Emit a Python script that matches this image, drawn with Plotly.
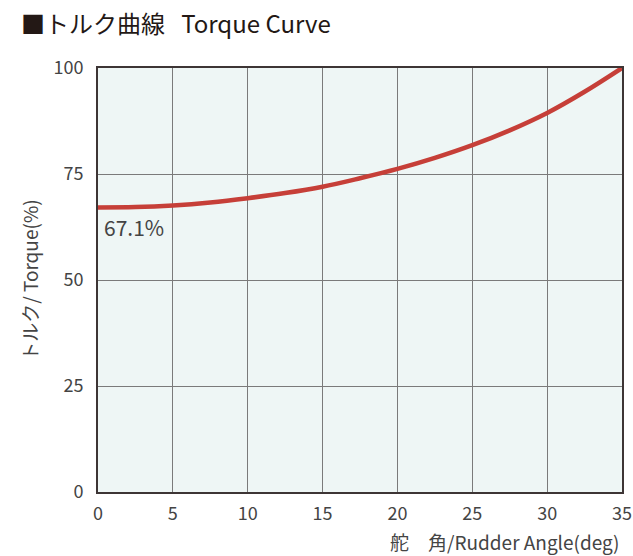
import plotly.graph_objects as go

angle = [0, 2.5, 5, 7.5, 10, 12.5, 15, 17.5, 20, 22.5, 25, 27.5, 30, 32.5, 35]
torque = [67.1, 67.2, 67.6, 68.3, 69.3, 70.5, 72.0, 74.0, 76.2, 78.8, 81.8, 85.3, 89.4, 94.4, 100.0]
x_ticks = [0, 5, 10, 15, 20, 25, 30, 35]
y_ticks = [0, 25, 50, 75, 100]

FONT = "Noto Sans CJK JP"
TXT = "#444444"

fig = go.Figure()
fig.add_trace(go.Scatter(
    x=angle, y=torque, mode="lines",
    line=dict(color="#c63f38", width=4.5, shape="spline"),
    hoverinfo="skip", showlegend=False,
))

fig.add_annotation(x=0, y=67.1, xref="x", yref="y", text="67.1%",
                   showarrow=False, xanchor="left", yanchor="top",
                   xshift=4, yshift=-2,
                   font=dict(family=FONT, size=21, color=TXT))

# plot area in px: x 98..622, y 68..492
fig.add_annotation(x=-0.15, y=1.108, xref="paper", yref="paper", text="■トルク曲線&nbsp;&nbsp;&nbsp;Torque Curve",
                   showarrow=False, xanchor="left", yanchor="middle",
                   font=dict(family=FONT, size=24, color="#231815"))

fig.add_annotation(x=1.0, y=-0.117, xref="paper", yref="paper", text="舵　角/Rudder Angle(deg)",
                   showarrow=False, xanchor="right", yanchor="middle",
                   font=dict(family=FONT, size=19, color=TXT))

fig.update_layout(
    width=633, height=556,
    margin=dict(l=98, r=11, t=68, b=64),
    paper_bgcolor="white",
    plot_bgcolor="#eef6f5",
    font=dict(family=FONT, color=TXT),
    xaxis=dict(range=[0, 35], tickvals=x_ticks, showgrid=True, gridcolor="#7a7a7a", gridwidth=1,
               showline=True, linecolor="#3d3535", linewidth=2, mirror=True, zeroline=False,
               automargin=False,
               ticks="", tickfont=dict(size=18, family=FONT, color=TXT), ticklabelstandoff=4),
    yaxis=dict(range=[0, 100], tickvals=y_ticks, showgrid=True, gridcolor="#7a7a7a", gridwidth=1,
               showline=True, linecolor="#3d3535", linewidth=2, mirror=True, zeroline=False,
               automargin=False,
               ticks="", tickfont=dict(size=18, family=FONT, color=TXT), ticklabelstandoff=9,
               title=dict(text="トルク/ Torque(%)", font=dict(size=19, family=FONT, color=TXT), standoff=10)),
)

fig.write_html("out.html", config={"displayModeBar": False},
               post_script="document.body.style.margin='0';document.body.style.overflow='hidden';")
